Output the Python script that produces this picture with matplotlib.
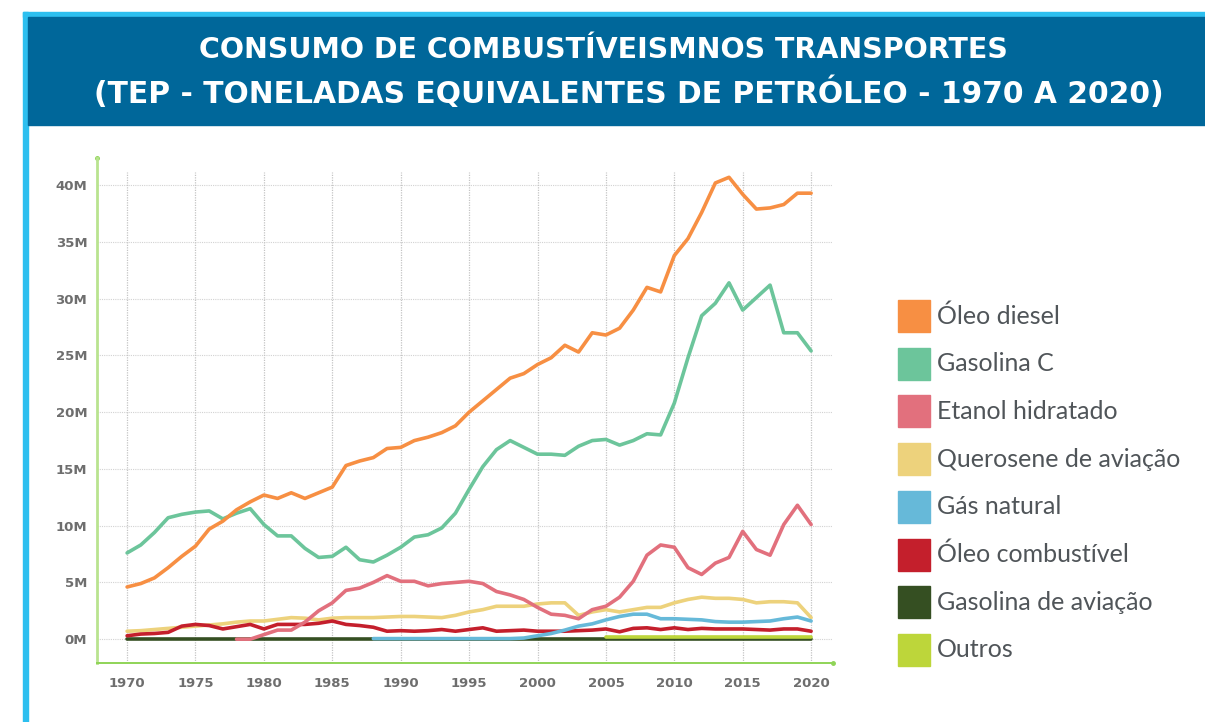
import matplotlib
matplotlib.use('Agg')
import matplotlib.pyplot as plt
import numpy as np
from matplotlib.patches import Rectangle

nan = np.nan
years = list(range(1970, 2021))

# valores em milhoes de tep
oleo_diesel = [4.6, 4.9, 5.4, 6.3, 7.3, 8.2, 9.7, 10.4, 11.4, 12.1,
               12.7, 12.4, 12.9, 12.4, 12.9, 13.4, 15.3, 15.7, 16.0, 16.8,
               16.9, 17.5, 17.8, 18.2, 18.8, 20.0, 21.0, 22.0, 23.0, 23.4,
               24.2, 24.8, 25.9, 25.3, 27.0, 26.8, 27.4, 29.0, 31.0, 30.6,
               33.8, 35.3, 37.6, 40.2, 40.7, 39.2, 37.9, 38.0, 38.3, 39.3,
               39.3]
gasolina_c = [7.6, 8.3, 9.4, 10.7, 11.0, 11.2, 11.3, 10.6, 11.1, 11.5,
              10.1, 9.1, 9.1, 8.0, 7.2, 7.3, 8.1, 7.0, 6.8, 7.4,
              8.1, 9.0, 9.2, 9.8, 11.1, 13.2, 15.2, 16.7, 17.5, 16.9,
              16.3, 16.3, 16.2, 17.0, 17.5, 17.6, 17.1, 17.5, 18.1, 18.0,
              20.8, 24.8, 28.5, 29.6, 31.4, 29.0, 30.1, 31.2, 27.0, 27.0,
              25.4]
etanol_hidratado = [nan] * 8 + [0.0, 0.0,
                    0.4, 0.8, 0.8, 1.5, 2.5, 3.2, 4.3, 4.5, 5.0, 5.6,
                    5.1, 5.1, 4.7, 4.9, 5.0, 5.1, 4.9, 4.2, 3.9, 3.5,
                    2.8, 2.2, 2.1, 1.8, 2.6, 2.9, 3.7, 5.1, 7.4, 8.3,
                    8.1, 6.3, 5.7, 6.7, 7.2, 9.5, 7.9, 7.4, 10.1, 11.8,
                    10.1]
querosene = [0.7, 0.75, 0.85, 0.95, 1.05, 1.15, 1.25, 1.35, 1.5, 1.6,
             1.6, 1.75, 1.9, 1.85, 1.7, 1.85, 1.9, 1.9, 1.9, 1.95,
             2.0, 2.0, 1.95, 1.9, 2.1, 2.4, 2.6, 2.9, 2.9, 2.9,
             3.1, 3.2, 3.2, 2.1, 2.4, 2.6, 2.4, 2.6, 2.8, 2.8,
             3.2, 3.5, 3.7, 3.6, 3.6, 3.5, 3.2, 3.3, 3.3, 3.2,
             1.9]
gas_natural = [nan] * 18 + [0.05, 0.05,
               0.05, 0.05, 0.05, 0.05, 0.05, 0.05, 0.05, 0.05, 0.05, 0.1,
               0.3, 0.5, 0.8, 1.15, 1.35, 1.7, 2.0, 2.2, 2.2, 1.8,
               1.8, 1.75, 1.7, 1.55, 1.5, 1.5, 1.55, 1.6, 1.8, 1.95,
               1.6]
oleo_combustivel = [0.3, 0.45, 0.5, 0.6, 1.15, 1.3, 1.2, 0.9, 1.1, 1.3,
                    0.9, 1.3, 1.3, 1.3, 1.4, 1.6, 1.3, 1.2, 1.05, 0.7,
                    0.75, 0.7, 0.75, 0.85, 0.7, 0.85, 1.0, 0.7, 0.75, 0.8,
                    0.7, 0.7, 0.7, 0.75, 0.8, 0.9, 0.65, 0.95, 1.0, 0.85,
                    1.0, 0.85, 0.95, 0.9, 0.9, 0.9, 0.85, 0.8, 0.9, 0.9,
                    0.7]
gasolina_aviacao = [0.05] * 51
outros = [nan] * 35 + [0.2] * 16

nomes = ['Óleo diesel', 'Gasolina C', 'Etanol hidratado', 'Querosene de aviação',
         'Gás natural', 'Óleo combustível', 'Gasolina de aviação', 'Outros']
series = [oleo_diesel, gasolina_c, etanol_hidratado, querosene,
          gas_natural, oleo_combustivel, gasolina_aviacao, outros]
cores = ['#F78F43', '#6CC59B', '#E2707D', '#EDD27C',
         '#66B9D9', '#C41F2C', '#354F22', '#BDD63A']
ordem = [6, 7, 3, 5, 4, 2, 1, 0]  # ordem de desenho

fig = plt.figure(figsize=(12.05, 7.22), dpi=100)
fig.patch.set_facecolor('white')

# moldura e faixa do titulo
fig.patches.append(Rectangle((23 / 1205, 0), 5 / 1205, 1 - 12 / 722,
                             transform=fig.transFigure, color='#2DBFEF', zorder=0))
fig.patches.append(Rectangle((23 / 1205, 1 - 17 / 722), 1, 5 / 722,
                             transform=fig.transFigure, color='#2DBFEF', zorder=0))
fig.patches.append(Rectangle((28 / 1205, 1 - 125 / 722), 1, 108 / 722,
                             transform=fig.transFigure, color='#00679A', zorder=0))
fig.text(603 / 1205, 1 - 50 / 722, 'CONSUMO DE COMBUSTÍVEISMNOS TRANSPORTES',
         ha='center', va='center', color='white', fontsize=20.5, fontweight='bold',
         family='DejaVu Sans')
fig.text(629 / 1205, 1 - 93 / 722, '(TEP - TONELADAS EQUIVALENTES DE PETRÓLEO - 1970 A 2020)',
         ha='center', va='center', color='white', fontsize=21.4, fontweight='bold',
         family='DejaVu Sans')

ax = fig.add_axes([97 / 1205, 1 - 663 / 722, 736 / 1205, 505 / 722])
ax.set_xlim(1967.8, 2021.6)
ax.set_ylim(-2.1, 42.4)

yt = [0, 5, 10, 15, 20, 25, 30, 35, 40]
xt = [1970, 1975, 1980, 1985, 1990, 1995, 2000, 2005, 2010, 2015, 2020]
ax.set_yticks(yt)
ax.set_yticklabels([f'{v}M' for v in yt])
ax.set_xticks(xt)
ax.set_xticklabels([str(v) for v in xt])

for y in yt:
    ax.axhline(y, color='#d2d2d2', lw=0.8, ls=(0, (1, 1)), zorder=1)
ax.vlines(xt, -2.1, 41.2, color='#c4c4c4', lw=0.9, ls=(0, (1, 1)), zorder=1)

for i in ordem:
    ax.plot(years, series[i], color=cores[i], lw=2.6, zorder=3,
            solid_joinstyle='round', solid_capstyle='round')

for s in ['top', 'right']:
    ax.spines[s].set_visible(False)
ax.spines['left'].set_color('#B9E38F')
ax.spines['left'].set_linewidth(2)
ax.spines['bottom'].set_color('#8FD457')
ax.spines['bottom'].set_linewidth(1.4)
ax.tick_params(axis='y', length=0, pad=7)
ax.tick_params(axis='x', length=0, pad=10)
for lab in ax.get_xticklabels() + ax.get_yticklabels():
    lab.set_family(['DejaVu Sans'])
    lab.set_fontweight('bold')
    lab.set_fontsize(9.5)
    lab.set_color('#6e6e6e')
ax.plot([1967.8], [42.4], 'o', color='#8FD457', ms=2.5, clip_on=False)
ax.plot([2021.6], [-2.1], 'o', color='#8FD457', ms=2.5, clip_on=False)

# legenda
for k, (nome, cor) in enumerate(zip(nomes, cores)):
    yc = 316 + k * 47.7
    fig.patches.append(Rectangle((898 / 1205, 1 - (yc + 16) / 722), 32 / 1205, 32 / 722,
                                 transform=fig.transFigure, color=cor))
    fig.text(937 / 1205, 1 - yc / 722, nome, ha='left', va='center',
             fontsize=18, color='#505559', family='Lato')

fig.savefig('out.png', dpi=100)
